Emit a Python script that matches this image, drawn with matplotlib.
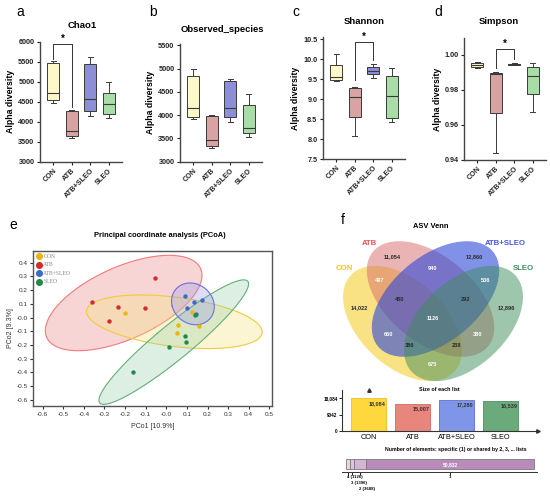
import numpy as np
import matplotlib
matplotlib.use("Agg")
import matplotlib.pyplot as plt
from matplotlib.patches import Ellipse
from matplotlib.transforms import blended_transform_factory, offset_copy

plt.rcParams['font.family'] = ['Liberation Sans', 'DejaVu Sans']
plt.rcParams['axes.unicode_minus'] = True

W, H = 550, 497
fig = plt.figure(figsize=(5.5, 4.97), dpi=100)


def ax_px(x0, y0, x1, y1):
    return fig.add_axes([x0 / W, 1 - y1 / H, (x1 - x0) / W, (y1 - y0) / H])


def ftext(x, y, s, **kw):
    fig.text(x / W, 1 - y / H, s, **kw)


# ---------------- data ----------------
groups = ["CON", "ATB", "ATB+SLEO", "SLEO"]
box_colors = ["#FCF8C8", "#D9A3A3", "#8C8FD8", "#A8DDA8"]

# five-number summaries per group: [whisker low, q1, median, q3, whisker high]
chao1 = [[4470, 4530, 4710, 5460, 5520],
         [3590, 3650, 3760, 4270, 4290],
         [4140, 4260, 4570, 5430, 5620],
         [4080, 4190, 4440, 4720, 4980]]
observed = [[3905, 3960, 4160, 4835, 5000],
            [3286, 3340, 3460, 3977, 4010],
            [3840, 3960, 4160, 4730, 4770],
            [3535, 3620, 3715, 4220, 4450]]
shannon = [[9.44, 9.475, 9.54, 9.84, 10.12],
           [8.07, 8.56, 9.06, 9.28, 9.31],
           [9.52, 9.625, 9.71, 9.79, 9.87],
           [8.42, 8.53, 9.08, 9.58, 9.78]]
simpson = [[0.9924, 0.9933, 0.9943, 0.9956, 0.9962],
           [0.9438, 0.9667, 0.9891, 0.9897, 0.9905],
           [0.9940, 0.9944, 0.9946, 0.9948, 0.9952],
           [0.9672, 0.9775, 0.9880, 0.9933, 0.9952]]

# PCoA coordinates
pc_con_x = [-0.199, 0.125, 0.057, 0.159, 0.053]
pc_con_y = [0.032, 0.039, -0.055, -0.058, -0.111]
pc_atb_x = [-0.055, -0.359, -0.236, -0.105, -0.280]
pc_atb_y = [0.290, 0.114, 0.078, 0.070, -0.022]
pc_as_x = [0.091, 0.136, 0.175, 0.100, 0.144]
pc_as_y = [0.156, 0.114, 0.129, 0.071, 0.029]
pc_sleo_x = [0.141, 0.091, 0.096, 0.015, -0.162]
pc_sleo_y = [0.022, -0.135, -0.175, -0.212, -0.393]

# Venn counts
venn_counts = ["11,054", "12,860", "940", "497", "536", "14,022", "480", "292",
               "12,896", "1126", "660", "380", "386", "238", "675"]
list_sizes = [18084, 15007, 17280, 16539]
share_labels = ["4", "3", "2", "1"]
share_counts = [1126, 1396, 3688, 50832]

# ---------------- box plots ----------------
box_specs = [
    (chao1, (40, 41.5, 122, 161.5), (3000, 6000), np.arange(3000, 6001, 500), "{:.0f}",
     "Chao1", (82, 25), (20, 12), (0, 1, 5940, 5560, 4360)),
    (observed, (180, 43.5, 262, 161.5), (3000, 5540), np.arange(3000, 5501, 500), "{:.0f}",
     "Observed_species", (222, 29), (153, 12), None),
    (shannon, (323, 37, 405, 159), (7.5, 10.55), np.arange(7.5, 10.51, 0.5), "{:.1f}",
     "Shannon", (364, 21), (296, 12), (1, 2, 10.42, 9.47, 9.97)),
    (simpson, (464, 38, 546, 160), (0.94, 1.0097), [0.94, 0.96, 0.98, 1.00], "{:.2f}",
     "Simpson", (499, 21), (438, 12), (1, 2, 1.0033, 0.9925, 0.9975)),
]
letters = ["a", "b", "c", "d"]
for (data, rect, ylim, yticks, fmt, title, tpos, lpos, sig), let in zip(box_specs, letters):
    ax = ax_px(*rect)
    stats = [dict(whislo=d[0], q1=d[1], med=d[2], q3=d[3], whishi=d[4], fliers=[]) for d in data]
    bp = ax.bxp(stats, positions=range(4), widths=0.65, patch_artist=True, showfliers=False,
                capwidths=0.25,
                boxprops=dict(linewidth=0.7, edgecolor="#3a3a3a"),
                whiskerprops=dict(linewidth=0.7, color="#3a3a3a"),
                capprops=dict(linewidth=0.7, color="#3a3a3a"),
                medianprops=dict(linewidth=0.8, color="#3a3a3a"))
    for patch, c in zip(bp["boxes"], box_colors):
        patch.set_facecolor(c)
    ax.set_xlim(-0.72, 3.72)
    ax.set_ylim(*ylim)
    ax.set_yticks(yticks)
    ax.set_yticklabels([fmt.format(v) for v in yticks], fontsize=5.2, fontweight="bold")
    ax.set_xticks(range(4))
    ax.set_xticklabels(groups, rotation=45, ha="right", rotation_mode="anchor",
                       fontsize=5.2, fontweight="bold")
    for s in ["top", "right"]:
        ax.spines[s].set_visible(False)
    for s in ["left", "bottom"]:
        ax.spines[s].set_linewidth(1.0)
        ax.spines[s].set_color("#444444")
    ax.tick_params(length=2.5, width=0.8, pad=1.5, colors="#222222")
    ax.set_ylabel("Alpha diversity", fontsize=6.3, fontweight="bold", labelpad=2)
    ax.patch.set_alpha(0)
    if sig is not None:
        i, j, top, yl, yr = sig
        ax.plot([i, i, j, j], [yl, top, top, yr], color="#333333", lw=0.7, clip_on=False)
        ax.text((i + j) / 2, top, "*", ha="center", va="bottom", fontsize=7, fontweight="bold")
    ftext(tpos[0], tpos[1], title, ha="center", va="center", fontsize=6.8, fontweight="bold")
    ftext(lpos[0], lpos[1], let, ha="center", va="center", fontsize=10)

# ---------------- PCoA ----------------
ax = ax_px(33, 250.7, 272, 406)
pc_groups = [
    ("CON", pc_con_x, pc_con_y, "#E8B60C", "#F0CC38", "#F5E27A"),
    ("ATB", pc_atb_x, pc_atb_y, "#D42A2A", "#F27A7A", "#E88080"),
    ("ATB+SLEO", pc_as_x, pc_as_y, "#3A6CC4", "#6E6EE2", "#9A9AE8"),
    ("SLEO", pc_sleo_x, pc_sleo_y, "#1E8A4A", "#62B07A", "#9AD0A8"),
]
k = np.sqrt(-2 * np.log(1 - 0.99))
t = np.linspace(0, 2 * np.pi, 300)
circ = np.vstack([np.cos(t), np.sin(t)])
draw_order = [1, 0, 3, 2]
zfill = {1: 1, 0: 2, 3: 3, 2: 4}
for gi in draw_order:
    name, xs, ys, pc, ec, fc = pc_groups[gi]
    xs = np.asarray(xs); ys = np.asarray(ys)
    cov = np.cov(xs, ys)
    vals, vecs = np.linalg.eigh(cov)
    pts = vecs @ (np.sqrt(vals)[:, None] * circ) * k
    ax.fill(xs.mean() + pts[0], ys.mean() + pts[1], facecolor=fc, alpha=0.33,
            edgecolor="none", zorder=zfill[gi])
    ax.plot(xs.mean() + pts[0], ys.mean() + pts[1], color=ec, lw=0.8, zorder=zfill[gi] + 0.1)
handles = []
for name, xs, ys, pc, ec, fc in pc_groups:
    h = ax.scatter(xs, ys, s=10, color=pc, zorder=10, linewidths=0, label=name)
    handles.append(h)
ax.set_xlim(-0.647, 0.513)
ax.set_ylim(-0.644, 0.487)
ax.set_xticks(np.round(np.arange(-0.6, 0.51, 0.1), 1))
ax.set_yticks(np.round(np.arange(-0.6, 0.41, 0.1), 1))
ax.xaxis.set_major_formatter(matplotlib.ticker.FormatStrFormatter("%.1f"))
ax.yaxis.set_major_formatter(matplotlib.ticker.FormatStrFormatter("%.1f"))
ax.tick_params(labelsize=4.6, length=2.5, width=0.8, pad=1.5, colors="#333333")
for s in ax.spines.values():
    s.set_linewidth(1.0)
    s.set_color("#555555")
ax.set_xlabel("PCo1 [10.9%]", fontsize=5, labelpad=5, color="#333333")
ax.set_ylabel("PCo2 [9.3%]", fontsize=5, labelpad=2, color="#333333")
leg = ax.legend(handles=handles, loc="upper left", frameon=False,
                prop=dict(family="Liberation Serif", size=4.1),
                handletextpad=0.15, borderaxespad=0.25, labelspacing=0.62,
                markerscale=1.6, handlelength=1.1, borderpad=0.3)
for txt in leg.get_texts():
    txt.set_color("#888888")
ftext(160, 235.7, "Principal coordinate analysis (PCoA)", ha="center", va="center",
      fontsize=5.4, fontweight="bold")
ftext(13, 225, "e", ha="center", va="center", fontsize=10)

# ---------------- Venn (axes in pixel units, y downward) ----------------
vx0, vy0, vx1, vy1 = 325, 205, 540, 412
vax = ax_px(vx0, vy0, vx1, vy1)
vax.set_xlim(vx0, vx1)
vax.set_ylim(vy1, vy0)
vax.axis("off")
venn_ellipses = [
    # (cx, cy, width, height, angle, color, alpha) for CON, ATB, ATB+SLEO, SLEO
    (402.5, 323.5, 141.6, 85.8, 43.0, "#F5C70A", 0.5),
    (430.5, 299.0, 149.0, 86.0, 39.4, "#D86A6A", 0.5),
    (435.5, 299.0, 149.0, 86.0, 140.6, "#2C48D8", 0.6),
    (463.5, 323.5, 141.6, 85.8, 137.0, "#3E8E5C", 0.5),
]
for cx, cy, w, h, ang, c, al in venn_ellipses:
    vax.add_patch(Ellipse((cx, cy), w, h, angle=ang, facecolor=c, alpha=al,
                          edgecolor="none"))
venn_pos = [(392, 256.7), (474, 256.7), (433, 269), (380, 280.7), (486, 280.7),
            (359.5, 307.7), (400, 299.3), (466, 299.3), (506.5, 307.7), (433, 319),
            (388.5, 334.7), (477.5, 334.7), (409.5, 345.7), (456.5, 345.7), (433, 365)]
white_set = {"940", "497", "536", "1126", "660", "380", "675"}
for lab, (x, y) in zip(venn_counts, venn_pos):
    vax.text(x, y, lab, ha="center", va="center", fontsize=4.1, fontweight="bold",
             color="white" if lab in white_set else "#2a2a2a")
set_label_specs = [("ATB", 377.3, 243.3, "right", "#E05555"),
                   ("ATB+SLEO", 485, 243.3, "left", "#4455E0"),
                   ("CON", 352.7, 269, "right", "#F2C21E"),
                   ("SLEO", 513.3, 269, "left", "#3A8F5A")]
for lab, x, y, ha, c in set_label_specs:
    vax.text(x, y, lab, ha=ha, va="center", fontsize=5.6, fontweight="bold", color=c,
             clip_on=False)
vax.text(431, 226.7, "ASV Venn", ha="center", va="center", fontsize=5.4, fontweight="bold")
ftext(343, 220, "f", ha="center", va="center", fontsize=10)

# ---------------- Size of each list ----------------
bax = ax_px(341.7, 390, 538, 431)
bar_colors = ["#FFD83E", "#E8857C", "#7F95E8", "#6BAA7B"]
bar_edges = ["#E8C020", "#D06860", "#5A70D0", "#4E9060"]
xpos = np.arange(4)
bax.bar(xpos, list_sizes, width=0.795, color=bar_colors, edgecolor=bar_edges, linewidth=0.6)
bax.set_xlim(-0.609, 3.85)
bax.set_ylim(0, 22800)
bax.set_yticks([0, list_sizes[0] / 2, list_sizes[0]])
bax.set_yticklabels(["0", f"{list_sizes[0] // 2}", f"{list_sizes[0]:,}"], fontsize=3.3,
                    fontweight="bold")
bax.set_xticks(xpos)
bax.set_xticklabels(groups, fontsize=5.3)
bax.tick_params(axis="x", length=0, pad=2)
bax.tick_params(axis="y", length=2, width=0.6, pad=1)
for s in ["top", "right"]:
    bax.spines[s].set_visible(False)
for s in ["left", "bottom"]:
    bax.spines[s].set_linewidth(0.8)
    bax.spines[s].set_color("#333333")
bax.plot(1, 0, ">", color="#333333", ms=2.5, transform=bax.get_yaxis_transform(), clip_on=False)
bax.plot(0, 1, "^", color="#333333", ms=2.5, transform=bax.get_xaxis_transform(), clip_on=False)
bax.patch.set_alpha(0)
for xi, v in zip(xpos, list_sizes):
    bax.text(xi + 0.2, v * 0.93, f"{v:,}", ha="center", va="top", fontsize=4, fontweight="bold",
             color="#333333")
ftext(439.3, 389.3, "Size of each list", ha="center", va="center", fontsize=3.9,
      fontweight="bold")

# ---------------- shared elements bar ----------------
total = sum(share_counts)
sax = ax_px(341.7, 456, 536.7, 472.3)
px_per = 187.7 / total
sax.set_xlim(-(346 - 341.7) / px_per, total + (536.7 - 533.7) / px_per)
sax.set_ylim(0, 1)
seg_colors = ["#E6D6E6", "#DCC6DC", "#D4B6D4", "#B98BBB"]
lefts = np.concatenate([[0], np.cumsum(share_counts)[:-1]])
sax.barh(0.49, share_counts, left=lefts, height=0.62, color=seg_colors, edgecolor="#7a7a7a",
         linewidth=0.6)
centers = lefts + np.asarray(share_counts) / 2
sax.set_xticks(centers)
sax.set_xticklabels([])
sax.tick_params(axis="x", length=2, width=0.6)
sax.set_yticks([])
for s in ["top", "right", "left"]:
    sax.spines[s].set_visible(False)
sax.spines["bottom"].set_linewidth(0.7)
sax.spines["bottom"].set_color("#333333")
sax.patch.set_alpha(0)
sax.text(centers[-1], 0.49, f"{share_counts[-1]:,}", ha="center", va="center", fontsize=3.6,
         fontweight="bold", color="white")
trans = blended_transform_factory(sax.transData, sax.transAxes)
for i, (lab, c, cx) in enumerate(zip(share_labels, share_counts, centers)):
    if i < 3:
        sax.text(cx, -0.18 - i * 0.37, f"{lab} ({c})", transform=offset_copy(trans, fig, x=-1.2,
                 units="dots"), ha="left", va="top", fontsize=3.1, fontweight="bold")
    else:
        sax.text(cx, -0.18, lab, transform=trans, ha="center", va="top", fontsize=3.1,
                 fontweight="bold")
ftext(455.8, 450, "Number of elements: specific (1) or shared by 2, 3, ... lists",
      ha="center", va="center", fontsize=3.7, fontweight="bold")

fig.savefig("out.png", dpi=100)
